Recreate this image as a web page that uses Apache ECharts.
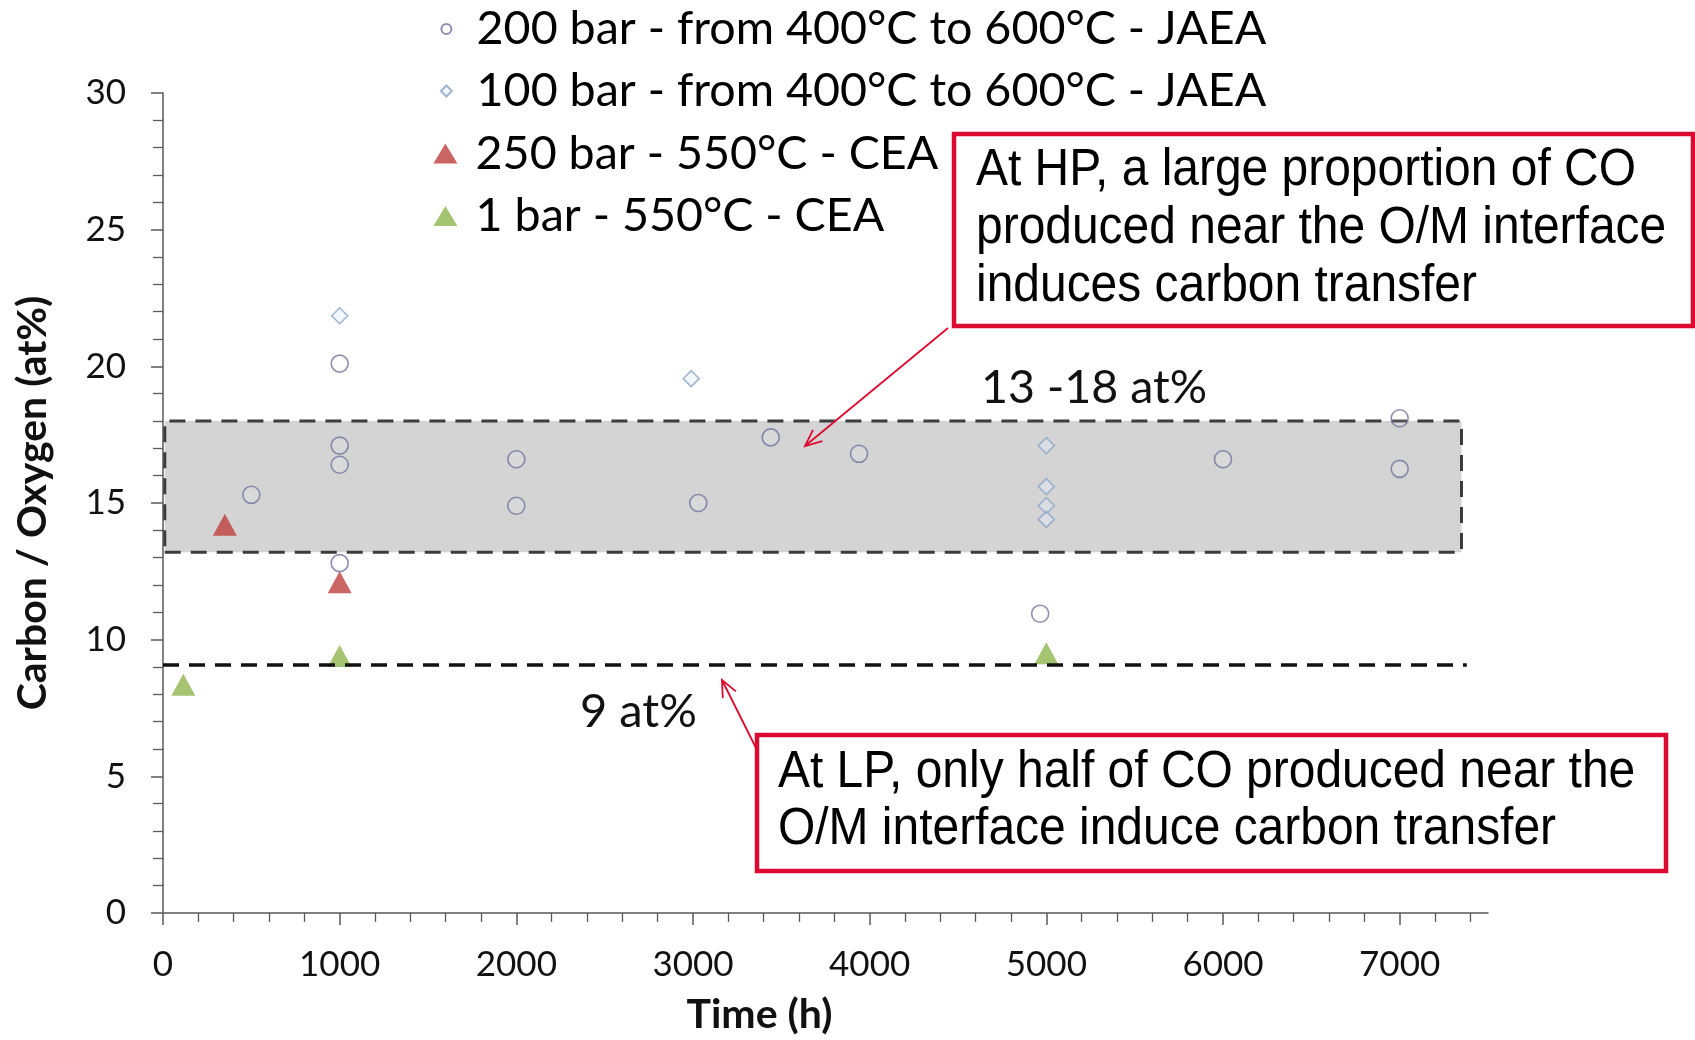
<!DOCTYPE html>
<html><head><meta charset="utf-8">
<script src="https://cdn.jsdelivr.net/npm/echarts@6/dist/echarts.min.js"></script>
<style>html,body{margin:0;padding:0;background:#fff}#c{width:1695px;height:1040px}</style>
</head><body><div id="c"></div>
<script>
// ---------- data ----------
const seriesNames = [
  '200 bar - from 400°C to 600°C - JAEA',
  '100 bar - from 400°C to 600°C - JAEA',
  '250 bar - 550°C - CEA',
  '1 bar - 550°C - CEA'
];
const jaea200 = [[500,15.3],[1000,20.1],[1000,17.1],[1000,16.4],[1000,12.8],[2000,16.6],[2000,14.9],
                 [3030,15.0],[3440,17.4],[3940,16.8],[4965,10.95],[6000,16.6],[7000,18.1],[7000,16.25]];
const jaea100 = [[1000,21.85],[2990,19.55],[5000,17.1],[5000,15.6],[5000,14.9],[5000,14.4]];
const cea250  = [[350,14.2],[1000,12.1]];
const cea1    = [[115,8.35],[1000,9.4],[5000,9.5]];
const bandX = [10, 7350];
const bandY = [13.2, 18];
const lineX = [0, 7380];
const lineY = 9.1;
const xMajorTicks = [0,1000,2000,3000,4000,5000,6000,7000];
const xMinorTicks = [200,400,600,800,1200,1400,1600,1800,2200,2400,2600,2800,3200,3400,3600,3800,
                     4200,4400,4600,4800,5200,5400,5600,5800,6200,6400,6600,6800,7200,7400];
const bandLabel = '13 -18 at%';
const lineLabel = '9 at%';
const noteHP = 'At HP, a large proportion of CO\nproduced near the O/M interface\ninduces carbon transfer';
const noteLP = 'At LP, only half of CO produced near the\nO/M interface induce carbon transfer';

// ---------- chart ----------
const chart = echarts.init(document.getElementById('c'), null, {renderer:'canvas'});
const FONT = 'Lato';
const AX = '#595959';
const RED = '#dc0a30';

const iw = [10, 11, 24, 24];
const ih = [10, 11, 20, 20];
const rowCenter = [29, 91, 153.5, 216];
const legends = seriesNames.map((n, i) => ({
  data: [n], selectedMode: false, padding: 0,
  left: 445.4 - iw[i] / 2, top: rowCenter[i] - 25,
  itemWidth: iw[i], itemHeight: ih[i],
  textStyle: {fontFamily: FONT, fontSize: 46.6, color: '#000', lineHeight: 50,
              padding: [0, 0, 0, 25.2 - iw[i] / 2]}
}));

function arrow(x1, y1, x2, y2) {
  const ang = Math.atan2(y2 - y1, x2 - x1), L = 18, a = 0.42;
  const p1 = [x2 - L * Math.cos(ang - a), y2 - L * Math.sin(ang - a)];
  const p2 = [x2 - L * Math.cos(ang + a), y2 - L * Math.sin(ang + a)];
  return [
    {type: 'line', shape: {x1, y1, x2, y2}, style: {stroke: RED, lineWidth: 1.8}, z: 10},
    {type: 'polyline', shape: {points: [p1, [x2, y2], p2]}, style: {stroke: RED, fill: null, lineWidth: 1.8}, z: 10}
  ];
}

const option = {
  backgroundColor: '#fff',
  animation: false,
  legend: legends,
  grid: {left: 163, top: 93, width: 1325, height: 825, containLabel: false},
  xAxis: [{
    type: 'value', min: 0, max: 7500, interval: 1000,
    name: 'Time (h)', nameLocation: 'middle', nameGap: 81,
    nameTextStyle: {fontFamily: FONT, fontWeight: 'bold', fontSize: 41, lineHeight: 41, color: '#111', padding: [0, 132, 0, 0]},
    axisLine: {show: true, lineStyle: {color: AX, width: 1.5}},
    axisTick: {show: true, length: 12, customValues: xMajorTicks, lineStyle: {color: AX, width: 1.5}},
    axisLabel: {customValues: xMajorTicks, formatter: v => String(v), margin: 34,
                fontFamily: FONT, fontSize: 35, lineHeight: 36, color: '#111'},
    splitLine: {show: false}
  }, {
    type: 'value', min: 0, max: 7500, position: 'bottom', gridIndex: 0,
    axisLine: {show: false},
    axisTick: {show: true, length: 9, customValues: xMinorTicks, lineStyle: {color: AX, width: 1.3}},
    axisLabel: {show: false},
    splitLine: {show: false}
  }],
  yAxis: {
    type: 'value', min: 0, max: 30, interval: 5,
    name: 'Carbon / Oxygen (at%)', nameLocation: 'middle', nameGap: 110,
    nameTextStyle: {fontFamily: FONT, fontWeight: 'bold', fontSize: 41, lineHeight: 41, color: '#111'},
    axisLine: {show: true, lineStyle: {color: AX, width: 1.5}},
    axisTick: {show: true, length: 12, lineStyle: {color: AX, width: 1.5}},
    minorTick: {show: true, splitNumber: 5, length: 10, lineStyle: {color: AX, width: 1.3}},
    axisLabel: {margin: 37, fontFamily: FONT, fontSize: 35, color: '#111'},
    splitLine: {show: false}
  },
  series: [
    {
      name: 'band', type: 'scatter', data: [], z: 1, silent: true,
      markArea: {
        silent: true,
        itemStyle: {color: '#d4d4d4', borderColor: '#3c3c3c', borderWidth: 3, borderType: [16, 10]},
        data: [[{coord: [bandX[0], bandY[0]]}, {coord: [bandX[1], bandY[1]]}]]
      }
    },
    {
      name: seriesNames[0], type: 'scatter', data: jaea200, symbol: 'circle', symbolSize: 17, z: 3,
      itemStyle: {color: 'rgba(255,255,255,0.15)', borderColor: '#72729c', borderWidth: 1.6}
    },
    {
      name: seriesNames[1], type: 'scatter', data: jaea100, symbol: 'diamond', symbolSize: 16, z: 3,
      itemStyle: {color: 'rgba(228,236,248,0.55)', borderColor: '#8aa3c6', borderWidth: 1.5}
    },
    {
      name: seriesNames[2], type: 'scatter', data: cea250, symbol: 'triangle', symbolSize: [24, 22], z: 3,
      itemStyle: {color: '#be3e3c'}
    },
    {
      name: seriesNames[3], type: 'scatter', data: cea1, symbol: 'triangle', symbolSize: [24, 22], z: 3,
      itemStyle: {color: '#8fb54e'}
    },
    {
      name: 'line9', type: 'scatter', data: [], z: 4, silent: true,
      markLine: {
        silent: true, symbol: ['none', 'none'], label: {show: false},
        lineStyle: {color: '#111', width: 3.5, type: [16, 10]},
        data: [[{coord: [lineX[0], lineY]}, {coord: [lineX[1], lineY]}]]
      }
    }
  ],
  graphic: [
    {type: 'text', left: 981, top: 389 - 25, style: {text: bandLabel, font: '46.6px Lato', fill: '#111'}},
    {type: 'text', left: 580, top: 713 - 25, style: {text: lineLabel, font: '47px Lato', fill: '#111'}},
    {type: 'rect', shape: {x: 954, y: 134, width: 739, height: 192}, style: {fill: '#fff', stroke: RED, lineWidth: 4.5}, z: 9},
    {type: 'text', x: 976, y: 142, scaleX: 0.94, originX: 0, originY: 0,
     style: {x: 0, y: 0, text: noteHP, font: '51px "Liberation Sans"', lineHeight: 58, fill: '#000', verticalAlign: 'top'}, z: 11},
    {type: 'rect', shape: {x: 757, y: 735, width: 909, height: 136}, style: {fill: '#fff', stroke: RED, lineWidth: 4.5}, z: 9},
    {type: 'text', x: 778, y: 744, scaleX: 0.94, originX: 0, originY: 0,
     style: {x: 0, y: 0, text: noteLP, font: '51px "Liberation Sans"', lineHeight: 57, fill: '#000', verticalAlign: 'top'}, z: 11}
  ].concat(arrow(948, 328, 805, 446), arrow(757, 750, 722, 680))
};
chart.setOption(option);
</script>
</body></html>
